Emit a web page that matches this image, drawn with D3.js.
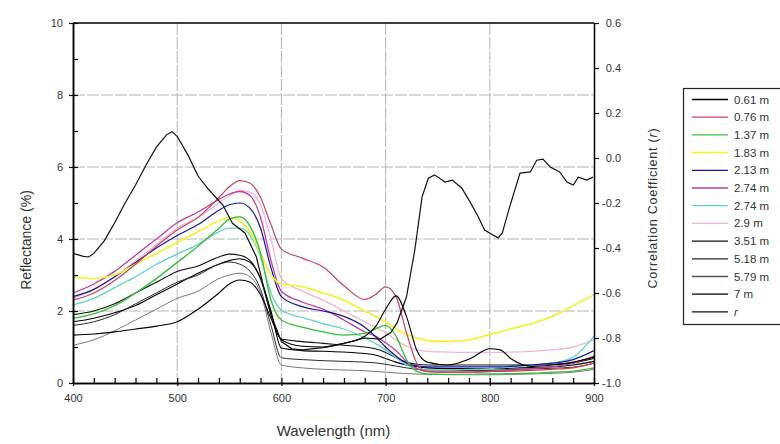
<!DOCTYPE html>
<html>
<head>
<meta charset="utf-8">
<script src="https://cdn.jsdelivr.net/npm/d3@7"></script>
<style>
  body { margin: 0; background: #fff; }
  svg { display: block; }
</style>
</head>
<body>
<div id="chart"></div>
<script>
// reflectance spectra by depth + correlation with depth

const wavelengths = [400,420,440,460,480,500,520,540,550,560,570,580,590,600,620,640,660,680,690,700,710,720,730,740,760,780,800,810,820,840,860,880,900];

const refl061 = [1.33,1.36,1.42,1.5,1.58,1.7,2.05,2.5,2.75,2.86,2.8,2.45,1.8,1.2,1.02,1.0,1.1,1.3,1.55,2.05,2.42,1.85,0.9,0.58,0.5,0.66,0.95,0.92,0.68,0.46,0.5,0.58,0.72];
const refl076 = [2.3,2.5,2.85,3.3,3.8,4.25,4.6,5.15,5.45,5.62,5.55,5.15,4.4,3.72,3.47,3.22,2.7,2.32,2.45,2.67,2.4,1.4,0.55,0.32,0.3,0.3,0.32,0.32,0.33,0.35,0.38,0.42,0.55];
const refl137 = [1.8,1.92,2.15,2.5,2.9,3.35,3.8,4.3,4.55,4.62,4.35,3.6,2.3,1.75,1.55,1.42,1.33,1.38,1.5,1.6,1.3,0.65,0.32,0.25,0.24,0.24,0.25,0.25,0.26,0.27,0.3,0.33,0.42];
const refl183 = [2.95,2.9,3.0,3.3,3.6,3.9,4.2,4.5,4.6,4.5,4.2,3.6,3.0,2.75,2.68,2.5,2.3,2.0,1.85,1.7,1.5,1.35,1.25,1.18,1.15,1.2,1.35,1.42,1.5,1.65,1.85,2.15,2.45];
const refl213 = [2.4,2.6,2.95,3.35,3.75,4.1,4.4,4.8,4.95,5.0,4.85,4.3,3.2,2.4,2.12,2.0,1.85,1.55,1.3,1.0,0.75,0.55,0.48,0.45,0.45,0.45,0.45,0.45,0.46,0.5,0.55,0.65,0.9];
const refl274a = [2.5,2.75,3.1,3.55,4.0,4.45,4.75,5.1,5.25,5.32,5.2,4.6,3.4,2.55,2.25,2.05,1.75,1.42,1.3,1.12,0.9,0.6,0.4,0.32,0.3,0.3,0.32,0.33,0.35,0.4,0.45,0.55,0.75];
const refl274b = [2.17,2.35,2.65,2.95,3.3,3.58,3.85,4.2,4.3,4.3,4.1,3.5,2.5,2.02,1.82,1.65,1.5,1.25,1.1,0.92,0.7,0.5,0.4,0.36,0.36,0.38,0.4,0.42,0.45,0.5,0.55,0.72,1.3];
const refl290 = [2.35,2.6,2.95,3.4,3.85,4.3,4.6,5.0,5.2,5.35,5.3,4.95,4.0,2.9,2.55,2.3,2.0,1.7,1.55,1.4,1.2,1.02,0.92,0.88,0.86,0.85,0.85,0.85,0.86,0.88,0.92,1.0,1.2];
const refl351 = [1.9,2.0,2.2,2.5,2.8,3.1,3.25,3.5,3.58,3.55,3.4,2.9,1.9,1.22,1.15,1.1,1.05,1.0,0.95,0.85,0.7,0.58,0.52,0.5,0.5,0.5,0.5,0.5,0.5,0.5,0.52,0.56,0.68];
const refl518 = [1.6,1.7,1.9,2.2,2.5,2.8,3.0,3.3,3.36,3.3,3.1,2.6,1.6,0.7,0.65,0.62,0.6,0.58,0.56,0.52,0.47,0.42,0.38,0.36,0.35,0.35,0.35,0.36,0.37,0.39,0.41,0.44,0.55];
const refl579 = [1.05,1.2,1.45,1.75,2.05,2.35,2.55,2.9,3.0,3.05,2.95,2.5,1.4,0.5,0.42,0.38,0.36,0.34,0.32,0.3,0.28,0.26,0.25,0.24,0.23,0.23,0.23,0.23,0.24,0.25,0.27,0.3,0.38];
const refl700 = [1.7,1.8,1.95,2.15,2.45,2.75,3.05,3.3,3.4,3.45,3.35,2.9,2.0,0.97,0.9,0.88,0.86,0.82,0.78,0.68,0.58,0.5,0.45,0.42,0.4,0.4,0.4,0.4,0.41,0.43,0.45,0.5,0.6];

const corrWavelengths = [400,410,415,420,430,440,450,460,470,480,490,495,500,510,520,530,544,553,565,576,582,590,600,610,620,640,660,680,695,705,711,720,728,735,741,747,757,764,773,781,789,795,803,808,812,819,829,839,845,851,858,867,874,880,885,893,899];
const corrValues = [-0.424,-0.437,-0.44,-0.424,-0.368,-0.288,-0.2,-0.12,-0.032,0.048,0.104,0.117,0.096,0.016,-0.08,-0.139,-0.21,-0.29,-0.333,-0.44,-0.555,-0.696,-0.816,-0.848,-0.853,-0.843,-0.824,-0.8,-0.805,-0.776,-0.733,-0.618,-0.41,-0.173,-0.09,-0.075,-0.107,-0.098,-0.133,-0.195,-0.262,-0.32,-0.342,-0.355,-0.333,-0.218,-0.067,-0.062,-0.01,-0.005,-0.04,-0.062,-0.107,-0.12,-0.085,-0.098,-0.085];

const depthLabels = ["0.61 m","0.76 m","1.37 m","1.83 m","2.13 m","2.74 m","2.74 m","2.9 m","3.51 m","5.18 m","5.79 m","7 m"];
const depthColors = ["#000000","#c8405e","#3cc03c","#f2f23a","#1414a0","#c03c9c","#62d4c2","#f2b4d6","#111111","#2a2a2a","#555555","#000000"];
const depthWidths = [1.1,1.2,1.4,1.8,1.2,1.3,1.3,1.3,1.1,1.0,0.8,1.1];

const xTicks = [400,500,600,700,800,900];
const yTicks = [0,2,4,6,8,10];
const rTicks = [-1.0,-0.8,-0.6,-0.4,-0.2,0.0,0.2,0.4,0.6];

const series = [refl061,refl076,refl137,refl183,refl213,refl274a,refl274b,refl290,refl351,refl518,refl579,refl700]
  .map((vals, i) => ({
    label: depthLabels[i],
    color: depthColors[i],
    width: depthWidths[i],
    points: vals.map((v, j) => [wavelengths[j], v])
  }));
const corrPoints = corrValues.map((v, i) => [corrWavelengths[i], v]);

const width = 780, height = 444;
const margin = { top: 23, right: 186, bottom: 61, left: 73 };
const plotW = width - margin.left - margin.right;
const plotH = height - margin.top - margin.bottom;
const font = "'Liberation Sans', Arial, sans-serif";

const svg = d3.select("#chart").append("svg")
  .attr("width", width)
  .attr("height", height)
  .attr("font-family", font);

const chart = svg.append("g")
  .attr("transform", `translate(${margin.left},${margin.top})`);

const x = d3.scaleLinear().domain([400, 900]).range([0, plotW]);
const y = d3.scaleLinear().domain([0, 10]).range([plotH, 0]);
const yr = d3.scaleLinear().domain([-1, 0.6]).range([plotH, 0]);

// grid
chart.append("g")
  .selectAll("line.vg")
  .data([500, 600, 700, 800])
  .join("line")
  .attr("x1", d => x(d)).attr("x2", d => x(d))
  .attr("y1", 0).attr("y2", plotH)
  .attr("stroke", "#b4b4b4")
  .attr("stroke-dasharray", "12,2");
chart.append("g")
  .selectAll("line.hg")
  .data([2, 4, 6, 8])
  .join("line")
  .attr("x1", 0).attr("x2", plotW)
  .attr("y1", d => y(d)).attr("y2", d => y(d))
  .attr("stroke", "#b4b4b4")
  .attr("stroke-dasharray", "12,2");

chart.append("clipPath").attr("id", "clip")
  .append("rect").attr("width", plotW).attr("height", plotH);

const line = d3.line()
  .x(d => x(d[0]))
  .y(d => y(d[1]))
  .curve(d3.curveMonotoneX);

const lines = chart.append("g").attr("clip-path", "url(#clip)");
lines.selectAll("path.refl")
  .data(series.slice().reverse())
  .join("path")
  .attr("fill", "none")
  .attr("stroke", d => d.color)
  .attr("stroke-width", d => d.width)
  .attr("d", d => line(d.points));

const corrLine = d3.line()
  .x(d => x(d[0]))
  .y(d => yr(d[1]));
lines.append("path")
  .attr("fill", "none")
  .attr("stroke", "#111")
  .attr("stroke-width", 1.2)
  .attr("d", corrLine(corrPoints));

// axes
function styleAxis(g) {
  g.selectAll(".domain").attr("stroke", "#000").attr("stroke-width", 1.5);
  g.selectAll(".tick line").attr("stroke", "#000").attr("stroke-width", 1.2);
  g.selectAll("text").attr("fill", "#333").attr("font-size", 11).attr("font-family", font);
}

chart.append("g")
  .attr("transform", `translate(0,${plotH})`)
  .call(d3.axisBottom(x).tickValues(d3.range(400, 901, 20)).tickSize(-5).tickSizeOuter(0).tickFormat(""))
  .call(styleAxis);
chart.append("g")
  .attr("transform", `translate(0,${plotH})`)
  .call(d3.axisBottom(x).tickValues(xTicks).tickSize(3).tickSizeOuter(0).tickPadding(8))
  .call(styleAxis);

chart.append("g")
  .call(d3.axisLeft(y).tickValues(d3.range(0, 11, 1)).tickSize(-5).tickSizeOuter(0).tickFormat(""))
  .call(styleAxis);
chart.append("g")
  .call(d3.axisLeft(y).tickValues(yTicks).tickSize(4).tickSizeOuter(0).tickPadding(6))
  .call(styleAxis);

const rAxis = chart.append("g")
  .attr("transform", `translate(${plotW},0)`)
  .call(d3.axisRight(yr).tickValues(rTicks).tickSize(5).tickSizeOuter(0).tickPadding(3)
    .tickFormat(d => d.toFixed(1)))
  .call(styleAxis);
rAxis.selectAll("text").attr("text-anchor", "end").attr("x", 27);

// top frame
chart.append("line")
  .attr("x1", 0).attr("x2", plotW).attr("y1", 0).attr("y2", 0)
  .attr("stroke", "#000").attr("stroke-width", 1.3);

// titles
svg.append("text")
  .attr("x", margin.left + plotW / 2).attr("y", 436)
  .attr("text-anchor", "middle")
  .attr("font-size", 15).attr("fill", "#333")
  .text("Wavelength (nm)");
svg.append("text")
  .attr("transform", `translate(31,240) rotate(-90)`)
  .attr("text-anchor", "middle")
  .attr("font-size", 14).attr("fill", "#333")
  .text("Reflectance (%)");
svg.append("text")
  .attr("transform", `translate(657,208) rotate(-90)`)
  .attr("text-anchor", "middle")
  .attr("font-size", 12.5).attr("fill", "#333")
  .attr("letter-spacing", 0.8)
  .text("Correlation Coefficient (")
  .append("tspan").attr("font-style", "italic").text("r")
  .select(function() { return this.parentNode; })
  .append("tspan").text(")");

// legend
const legendItems = series.map(d => ({ label: d.label, color: d.color, width: d.width }))
  .concat([{ label: "r", color: "#111", width: 1.2, italic: true }]);
const legend = svg.append("g").attr("transform", "translate(683,88)");
legend.append("rect")
  .attr("x", 0.5).attr("y", 0.5)
  .attr("width", 120).attr("height", 236)
  .attr("fill", "#fff")
  .attr("stroke", "#222").attr("stroke-width", 1.2);
const rowH = 17.7;
const item = legend.selectAll("g.item")
  .data(legendItems)
  .join("g")
  .attr("transform", (d, i) => `translate(0,${11.5 + i * rowH})`);
item.append("line")
  .attr("x1", 9).attr("x2", 45)
  .attr("stroke", d => d.color)
  .attr("stroke-width", d => Math.max(d.width, 1.3));
item.append("text")
  .attr("x", 51).attr("dy", "0.35em")
  .attr("font-size", 11.5).attr("fill", "#333")
  .attr("font-style", d => d.italic ? "italic" : null)
  .text(d => d.label);
</script>
</body>
</html>
